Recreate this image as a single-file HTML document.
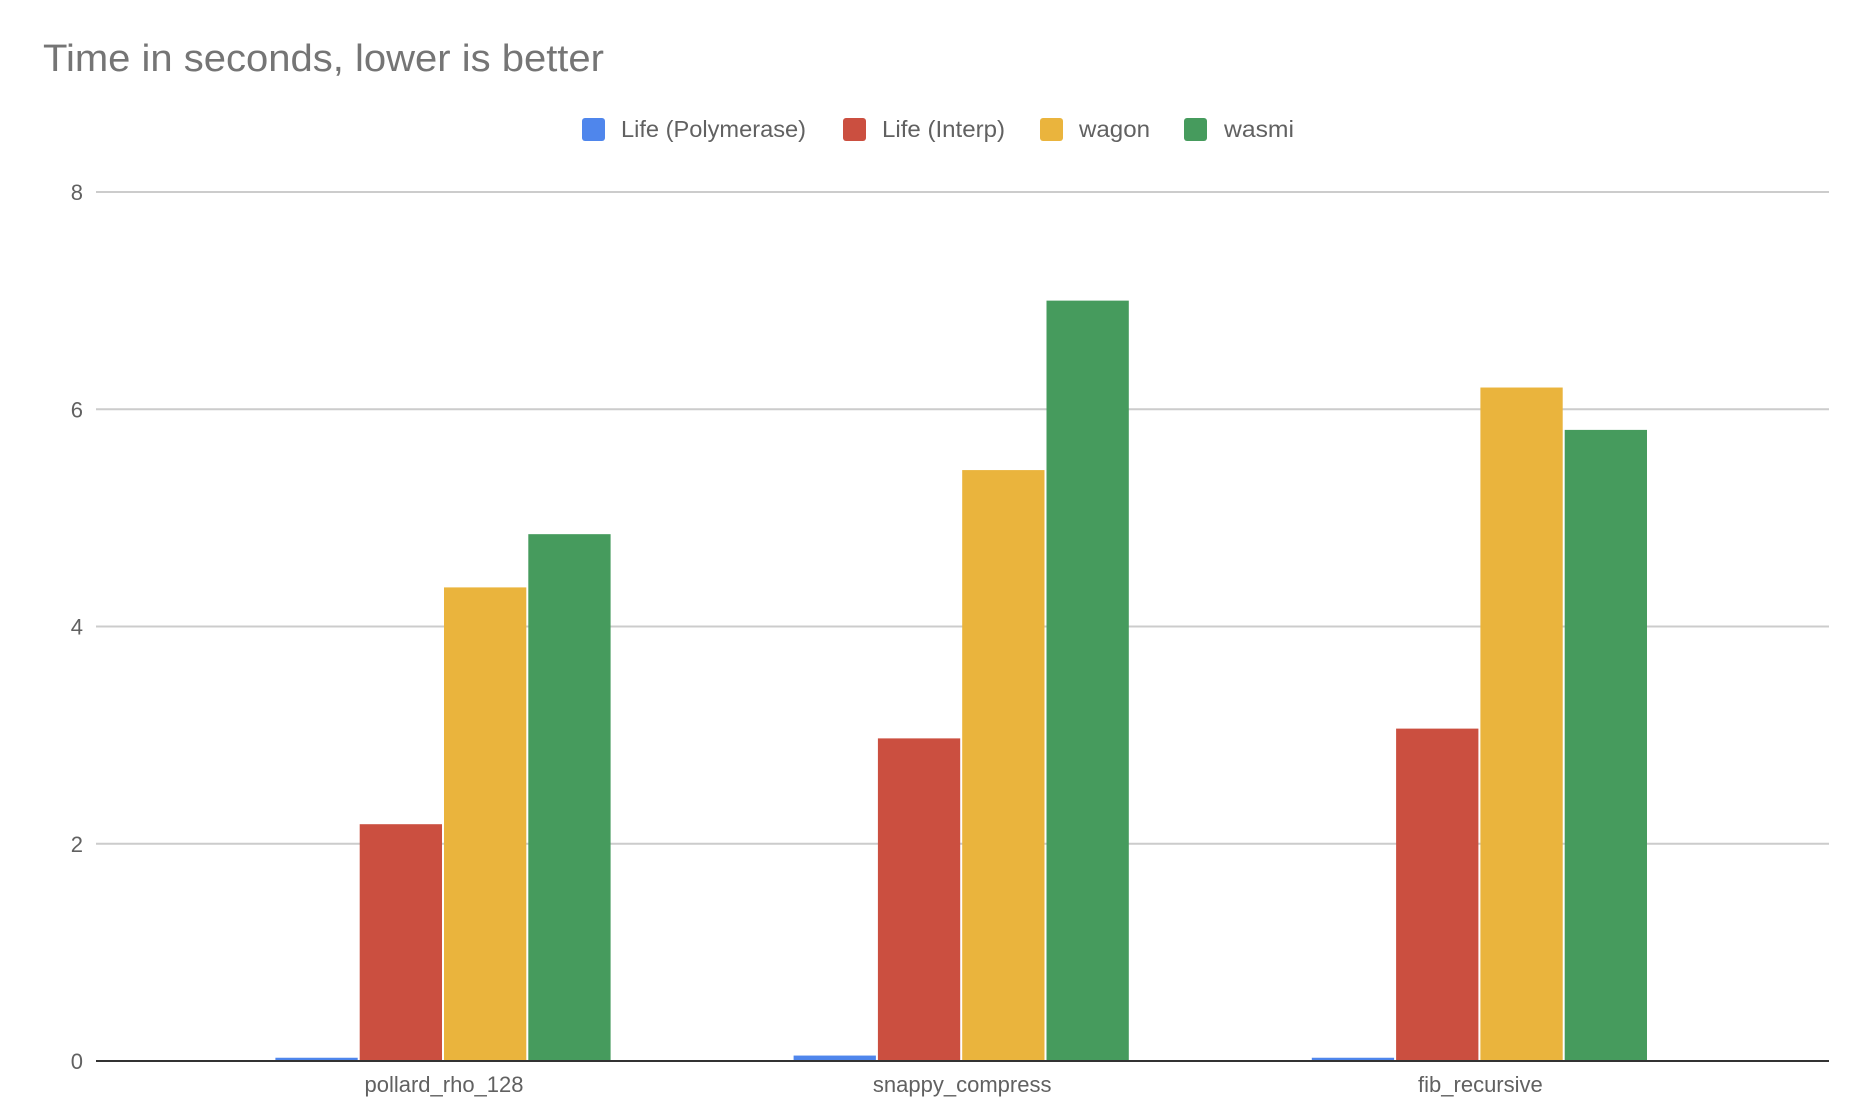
<!DOCTYPE html>
<html><head><meta charset="utf-8"><style>
html,body{margin:0;padding:0;background:#fff;width:1865px;height:1119px;overflow:hidden}
text{font-family:"Liberation Sans",sans-serif}
</style></head><body>
<svg id="chart" width="1865" height="1119" viewBox="0 0 1865 1119" xmlns="http://www.w3.org/2000/svg">
<text x="43" y="71" font-size="38" fill="#757575" textLength="561" lengthAdjust="spacingAndGlyphs">Time in seconds, lower is better</text>
<g id="legend"></g>
<g id="grid"></g>
<g id="bars"></g>
<g id="xlabels"></g>
</svg>
<script>
const categories = ["pollard_rho_128", "snappy_compress", "fib_recursive"];
const seriesNames = ["Life (Polymerase)", "Life (Interp)", "wagon", "wasmi"];
const lifePolymerase = [0.03, 0.05, 0.03];
const lifeInterp = [2.18, 2.97, 3.06];
const wagon = [4.36, 5.44, 6.20];
const wasmi = [4.85, 7.00, 5.81];
const yTicks = [0, 2, 4, 6, 8];

const series = [lifePolymerase, lifeInterp, wagon, wasmi];
const colors = ["#4f86ec", "#cb4f40", "#eab43d", "#469b5d"];
const NS = "http://www.w3.org/2000/svg";
const plotLeft = 96, plotRight = 1829, yTop = 192, yBottom = 1061, yMax = 8;
const firstCenter = 444, catStep = 518.2, barStep = 84.3, barW = 82.3;
function y(v){ return yBottom - (v / yMax) * (yBottom - yTop); }
function xCenter(i){ return firstCenter + i * catStep; }
function mk(tag, attrs, parent){ const e = document.createElementNS(NS, tag); for (const k in attrs) e.setAttribute(k, attrs[k]); parent.appendChild(e); return e; }

const grid = document.getElementById("grid");
yTicks.forEach(t => {
  if (t !== 0) {
    const l = mk("line", {x1: plotLeft, x2: plotRight, y1: y(t), y2: y(t), stroke: "#cccccc", "stroke-width": 2}, grid);
    
    
  }
  const tx = mk("text", {x: 83, y: y(t) + 8, "font-size": 22, fill: "#616161", "text-anchor": "end"}, grid);
  tx.textContent = t;
  
  
});

const bars = document.getElementById("bars");
categories.forEach((c, i) => {
  series.forEach((s, j) => {
    const x = xCenter(i) + (j - 2) * barStep;
    const r = mk("rect", {x: x, y: y(s[i]), width: barW, height: yBottom - y(s[i]), fill: colors[j]}, bars);
    
    
  });
  const t = mk("text", {x: xCenter(i), y: 1092, "font-size": 22, fill: "#616161", "text-anchor": "middle"}, document.getElementById("xlabels"));
  t.textContent = c;
  
  
});
const axis = mk("line", {x1: plotLeft, x2: plotRight, y1: yBottom, y2: yBottom, stroke: "#333333", "stroke-width": 2}, bars);



const legend = document.getElementById("legend");
const legSq = [582, 843, 1040, 1184];
const legTx = [621, 882, 1079, 1224];
seriesNames.forEach((n, j) => {
  const r = mk("rect", {x: legSq[j], y: 118, width: 23, height: 23, rx: 3, fill: colors[j]}, legend);
  
  
  const t = mk("text", {x: legTx[j], y: 137, "font-size": 23, fill: "#616161", textLength: [185, 123, 71, 70][j], lengthAdjust: "spacingAndGlyphs"}, legend);
  t.textContent = n;
  
  
});
</script>
</body></html>
